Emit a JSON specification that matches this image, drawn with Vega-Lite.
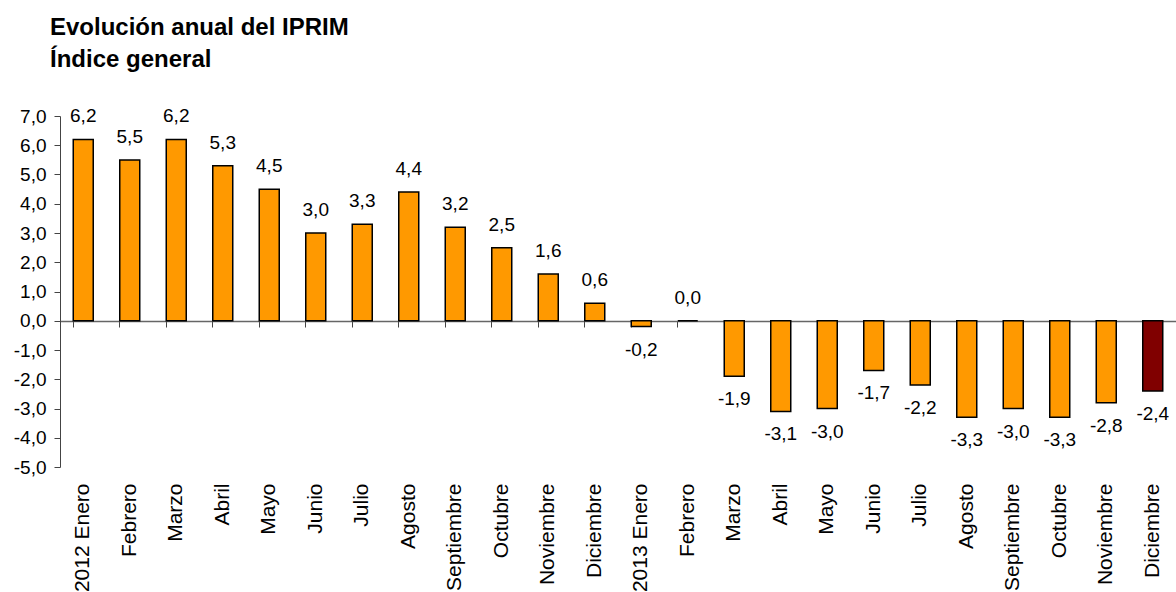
{
  "$schema": "https://vega.github.io/schema/vega-lite/v6.json",
  "autosize": {"type": "none"},
  "padding": {"left": 60, "top": 116, "right": 0, "bottom": 125},
  "width": 1116,
  "height": 351,
  "background": "white",
  "title": {
    "text": ["Evolución anual del IPRIM", "Índice general"],
    "anchor": "start",
    "frame": "group",
    "dx": -10,
    "offset": 35,
    "font": "Liberation Sans",
    "fontSize": 24,
    "fontWeight": "bold",
    "lineHeight": 32,
    "color": "black"
  },
  "data": {
    "values": [
      {"mes": "2012 Enero", "valor": 6.2},
      {"mes": "2012 Febrero", "valor": 5.5},
      {"mes": "2012 Marzo", "valor": 6.2},
      {"mes": "2012 Abril", "valor": 5.3},
      {"mes": "2012 Mayo", "valor": 4.5},
      {"mes": "2012 Junio", "valor": 3.0},
      {"mes": "2012 Julio", "valor": 3.3},
      {"mes": "2012 Agosto", "valor": 4.4},
      {"mes": "2012 Septiembre", "valor": 3.2},
      {"mes": "2012 Octubre", "valor": 2.5},
      {"mes": "2012 Noviembre", "valor": 1.6},
      {"mes": "2012 Diciembre", "valor": 0.6},
      {"mes": "2013 Enero", "valor": -0.2},
      {"mes": "2013 Febrero", "valor": 0.0},
      {"mes": "2013 Marzo", "valor": -1.9},
      {"mes": "2013 Abril", "valor": -3.1},
      {"mes": "2013 Mayo", "valor": -3.0},
      {"mes": "2013 Junio", "valor": -1.7},
      {"mes": "2013 Julio", "valor": -2.2},
      {"mes": "2013 Agosto", "valor": -3.3},
      {"mes": "2013 Septiembre", "valor": -3.0},
      {"mes": "2013 Octubre", "valor": -3.3},
      {"mes": "2013 Noviembre", "valor": -2.8},
      {"mes": "2013 Diciembre", "valor": -2.4}
    ]
  },
  "encoding": {
    "x": {
      "field": "mes",
      "type": "nominal",
      "sort": null,
      "axis": null,
      "scale": {"paddingInner": 0.57, "paddingOuter": 0.285}
    },
    "y": {
      "field": "valor",
      "type": "quantitative",
      "scale": {"domain": [-5, 7], "nice": false, "zero": false},
      "axis": {
        "title": null,
        "values": [-5, -4, -3, -2, -1, 0, 1, 2, 3, 4, 5, 6, 7],
        "format": ".1f",
        "grid": false,
        "labelOverlap": false,
        "domainColor": "#444",
        "tickColor": "#444",
        "tickSize": 6,
        "labelPadding": 8,
        "labelFont": "Liberation Sans",
        "labelFontSize": 19,
        "labelColor": "black"
      }
    }
  },
  "layer": [
    {
      "mark": {"type": "bar", "stroke": "black", "strokeWidth": 1.5},
      "encoding": {
        "x": {
          "field": "mes",
          "type": "nominal",
          "sort": null,
          "axis": {
            "orient": "bottom",
            "title": null,
            "domain": false,
            "ticks": false,
            "labelAngle": -90,
            "labelPadding": 16,
            "labelFont": "Liberation Sans",
            "labelFontSize": 21,
            "labelColor": "black",
            "labelLimit": 300,
            "labelOverlap": false,
            "labelExpr": "indexof(datum.value, 'Enero') >= 0 ? datum.value : slice(datum.value, 5)"
          }
        },
        "color": {
          "condition": {"test": "datum.mes === '2013 Diciembre'", "value": "#800000"},
          "value": "#FF9900"
        }
      }
    },
    {
      "mark": {"type": "text", "opacity": 0},
      "encoding": {
        "x": {
          "field": "mes",
          "type": "nominal",
          "sort": null,
          "axis": {
            "orient": "bottom",
            "title": null,
            "labels": false,
            "offset": -146,
            "bandPosition": 0,
            "domainColor": "#666",
            "tickColor": "#444",
            "tickSize": 6,
            "domainWidth": 1.5
          }
        },
        "text": {"field": "valor"}
      }
    },
    {
      "transform": [{"filter": "datum.valor >= 0"}],
      "mark": {"type": "text", "baseline": "middle", "dy": -23, "font": "Liberation Sans", "fontSize": 19, "color": "black"},
      "encoding": {
        "text": {"field": "valor", "type": "quantitative", "format": ".1f"}
      }
    },
    {
      "transform": [{"filter": "datum.valor < 0"}],
      "mark": {"type": "text", "baseline": "middle", "dy": 23, "font": "Liberation Sans", "fontSize": 19, "color": "black"},
      "encoding": {
        "text": {"field": "valor", "type": "quantitative", "format": ".1f"}
      }
    }
  ],
  "resolve": {"axis": {"x": "independent"}},
  "config": {
    "view": {"stroke": null},
    "locale": {
      "number": {"decimal": ",", "thousands": ".", "grouping": [3], "currency": ["", " €"], "minus": "-"}
    }
  }
}
